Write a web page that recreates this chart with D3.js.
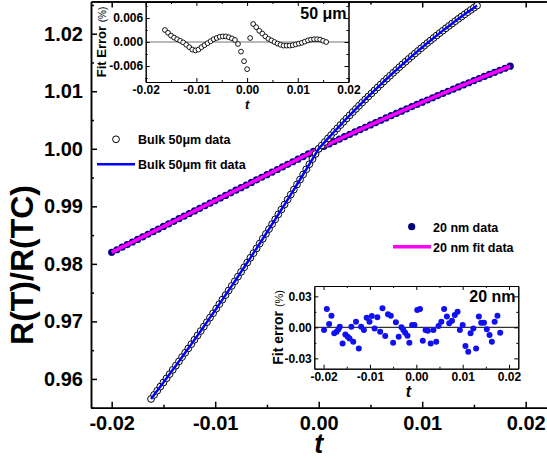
<!DOCTYPE html>
<html><head><meta charset="utf-8">
<script src="https://cdn.jsdelivr.net/npm/d3@7"></script>
<style>
body{margin:0;background:#fff;}
svg{display:block;}
</style></head><body>
<svg id="chart" width="547" height="459"></svg>
<script>
// ---------- data ----------
const bulkT = [-0.0162,-0.0159,-0.0156,-0.0153,-0.0150,-0.0147,-0.0144,-0.0141,-0.0138,-0.0135,-0.0132,-0.0129,-0.0126,-0.0123,-0.0120,-0.0117,-0.0114,-0.0111,-0.0108,-0.0105,-0.0102,-0.0099,-0.0096,-0.0093,-0.0090,-0.0087,-0.0084,-0.0081,-0.0078,-0.0075,-0.0072,-0.0069,-0.0066,-0.0063,-0.0060,-0.0057,-0.0054,-0.0051,-0.0048,-0.0045,-0.0042,-0.0039,-0.0036,-0.0033,-0.0030,-0.0027,-0.0024,-0.0021,-0.0018,-0.0015,-0.0012,-0.0009,-0.0006,-0.0003,0.0000,0.0003,0.0006,0.0009,0.0012,0.0015,0.0018,0.0021,0.0024,0.0027,0.0030,0.0033,0.0036,0.0039,0.0042,0.0045,0.0048,0.0051,0.0054,0.0057,0.0060,0.0063,0.0066,0.0069,0.0072,0.0075,0.0078,0.0081,0.0084,0.0087,0.0090,0.0093,0.0096,0.0099,0.0102,0.0105,0.0108,0.0111,0.0114,0.0117,0.0120,0.0123,0.0126,0.0129,0.0132,0.0135,0.0138,0.0141,0.0144,0.0147,0.0150,0.0153];
const bulkR = [0.95652,0.95723,0.95795,0.95867,0.95939,0.96011,0.96084,0.96158,0.96231,0.96305,0.96380,0.96455,0.96530,0.96605,0.96681,0.96757,0.96833,0.96910,0.96987,0.97065,0.97143,0.97221,0.97300,0.97379,0.97458,0.97538,0.97618,0.97698,0.97779,0.97860,0.97941,0.98023,0.98105,0.98187,0.98270,0.98353,0.98437,0.98521,0.98605,0.98690,0.98774,0.98860,0.98945,0.99031,0.99118,0.99204,0.99291,0.99379,0.99466,0.99554,0.99643,0.99732,0.99821,0.99910,1.00000,1.00060,1.00120,1.00180,1.00239,1.00297,1.00355,1.00413,1.00470,1.00527,1.00583,1.00639,1.00694,1.00749,1.00803,1.00857,1.00910,1.00963,1.01016,1.01068,1.01119,1.01171,1.01221,1.01271,1.01321,1.01370,1.01419,1.01468,1.01515,1.01563,1.01610,1.01656,1.01702,1.01748,1.01793,1.01838,1.01882,1.01926,1.01969,1.02012,1.02054,1.02096,1.02137,1.02178,1.02219,1.02259,1.02298,1.02337,1.02376,1.02414,1.02452,1.02489];

const nmT = [-0.0200,-0.0195,-0.0190,-0.0185,-0.0180,-0.0175,-0.0170,-0.0165,-0.0160,-0.0155,-0.0150,-0.0145,-0.0140,-0.0135,-0.0130,-0.0125,-0.0120,-0.0115,-0.0110,-0.0105,-0.0100,-0.0095,-0.0090,-0.0085,-0.0080,-0.0075,-0.0070,-0.0065,-0.0060,-0.0055,-0.0050,-0.0045,-0.0040,-0.0035,-0.0030,-0.0025,-0.0020,-0.0015,-0.0010,-0.0005,0.0000,0.0005,0.0010,0.0015,0.0020,0.0025,0.0030,0.0035,0.0040,0.0045,0.0050,0.0055,0.0060,0.0065,0.0070,0.0075,0.0080,0.0085,0.0090,0.0095,0.0100,0.0105,0.0110,0.0115,0.0120,0.0125,0.0130,0.0135,0.0140,0.0145,0.0150,0.0155,0.0160,0.0165,0.0170,0.0175,0.0180,0.0185];
const nmR = [0.98200,0.98245,0.98290,0.98335,0.98380,0.98425,0.98470,0.98515,0.98560,0.98605,0.98650,0.98695,0.98740,0.98785,0.98830,0.98875,0.98920,0.98965,0.99010,0.99055,0.99100,0.99145,0.99190,0.99235,0.99280,0.99325,0.99370,0.99415,0.99460,0.99505,0.99550,0.99595,0.99640,0.99685,0.99730,0.99775,0.99820,0.99865,0.99910,0.99955,1.00000,1.00042,1.00085,1.00127,1.00168,1.00210,1.00251,1.00293,1.00334,1.00374,1.00415,1.00455,1.00496,1.00536,1.00575,1.00615,1.00654,1.00694,1.00733,1.00771,1.00810,1.00848,1.00887,1.00925,1.00962,1.01000,1.01037,1.01075,1.01112,1.01148,1.01185,1.01221,1.01258,1.01294,1.01329,1.01365,1.01400,1.01436];

// inset: bulk fit error (%)
const errBulkT = [-0.0162,-0.0156,-0.0150,-0.0144,-0.0138,-0.0132,-0.0126,-0.0120,-0.0114,-0.0108,-0.0102,-0.0096,-0.0090,-0.0084,-0.0078,-0.0072,-0.0066,-0.0060,-0.0054,-0.0048,-0.0042,-0.0036,-0.0030,-0.0024,-0.0018,-0.0012,-0.0006,0.0000,0.0006,0.0012,0.0018,0.0024,0.0030,0.0036,0.0042,0.0048,0.0054,0.0060,0.0066,0.0072,0.0078,0.0084,0.0090,0.0096,0.0102,0.0108,0.0114,0.0120,0.0126,0.0132,0.0138,0.0144,0.0150,0.0156];
const errBulk = [0.0030,0.0023,0.0016,0.0011,0.0007,0.0003,-0.0001,-0.0007,-0.0013,-0.0019,-0.0021,-0.0019,-0.0013,-0.0008,-0.0003,0.0002,0.0007,0.0010,0.0013,0.0014,0.0014,0.0012,0.0009,0.0005,-0.0005,-0.0024,-0.0048,-0.0068,0.0010,0.0045,0.0037,0.0028,0.0021,0.0014,0.0008,0.0004,0.0000,-0.0004,-0.0007,-0.0009,-0.0009,-0.0009,-0.0008,-0.0006,-0.0004,-0.0002,0.0001,0.0004,0.0006,0.0007,0.0007,0.0006,0.0003,0.0000];

// inset: 20 nm fit error (%)
const errNmT = [-0.0199,-0.0193,-0.0188,-0.0183,-0.0177,-0.0172,-0.0168,-0.0165,-0.0159,-0.0153,-0.0148,-0.0144,-0.0140,-0.0136,-0.0130,-0.0124,-0.0119,-0.0113,-0.0107,-0.0101,-0.0096,-0.0090,-0.0084,-0.0078,-0.0073,-0.0067,-0.0061,-0.0055,-0.0050,-0.0044,-0.0038,-0.0032,-0.0028,-0.0024,-0.0019,-0.0015,-0.0009,-0.0004,0.0002,0.0008,0.0014,0.0020,0.0025,0.0031,0.0037,0.0043,0.0048,0.0054,0.0060,0.0066,0.0071,0.0077,0.0083,0.0089,0.0094,0.0100,0.0106,0.0112,0.0117,0.0123,0.0129,0.0135,0.0140,0.0146,0.0152,0.0158,0.0163,0.0169,0.0175,0.0181];
const errNm = [-0.0026,0.0178,0.0032,0.0113,-0.0058,-0.0042,-0.0019,0.0006,-0.0156,-0.0068,-0.0091,-0.0107,0.0006,-0.0139,0.0055,-0.0204,0.0006,-0.0026,0.0094,0.0055,0.0110,-0.0010,0.0097,-0.0042,0.0185,-0.0084,0.0126,0.0113,-0.0149,0.0049,-0.0091,0.0000,-0.0026,-0.0052,-0.0081,-0.0149,0.0023,0.0023,0.0168,0.0178,-0.0130,-0.0026,-0.0032,-0.0156,-0.0026,-0.0139,0.0013,0.0055,0.0178,0.0104,0.0039,0.0065,0.0120,0.0152,-0.0026,0.0023,-0.0181,-0.0237,-0.0058,-0.0010,-0.0204,0.0104,0.0045,0.0045,-0.0019,-0.0075,-0.0139,0.0055,0.0113,-0.0052];

// ticks
const xTicks = [-0.02,-0.01,0.00,0.01,0.02];
const xMinor = [-0.015,-0.005,0.005,0.015];
const yTicks = [0.96,0.97,0.98,0.99,1.00,1.01,1.02];
const yMinor = [0.955,0.965,0.975,0.985,0.995,1.005,1.015,1.025];
const in1YTicks = [-0.006,0.000,0.006];
const in1YMinor = [-0.009,-0.003,0.003,0.009];
const in2YTicks = [-0.03,0.00,0.03];
const in2YMinor = [-0.015,0.015];

// ---------- drawing ----------
const FONT = "'Liberation Sans', Arial, Helvetica, sans-serif";
const svg = d3.select("#chart").attr("font-family", FONT);

const x = d3.scaleLinear().domain([-0.022, 0.022]).range([91, 546.4]);
const y = d3.scaleLinear().domain([0.955, 1.0256]).range([407.7, 1.5]);

function style(g, fs, sw) {
  g.attr("font-family", FONT);
  g.select(".domain").attr("stroke", "#000").attr("stroke-width", sw);
  g.selectAll(".tick line").attr("stroke", "#000").attr("stroke-width", sw);
  g.selectAll(".tick text").attr("font-size", fs).attr("font-weight", "bold").attr("fill", "#000");
  return g;
}

// main axes
const fmt2 = d => d.toFixed(2);
svg.append("g").attr("transform", "translate(0,407.7)")
  .call(d3.axisBottom(x).tickValues(xTicks).tickFormat(fmt2).tickSize(-6).tickSizeOuter(0).tickPadding(8))
  .call(g => style(g, 20, 1.5));
svg.append("g").attr("transform", "translate(0,407.7)")
  .call(d3.axisBottom(x).tickValues(xMinor).tickFormat("").tickSize(-3).tickSizeOuter(0))
  .call(g => style(g, 20, 1.5));
svg.append("g").attr("transform", "translate(0,1.5)")
  .call(d3.axisTop(x).tickValues(xTicks).tickFormat("").tickSize(-6).tickSizeOuter(0))
  .call(g => style(g, 20, 1.5));
svg.append("g").attr("transform", "translate(0,1.5)")
  .call(d3.axisTop(x).tickValues(xMinor).tickFormat("").tickSize(-3).tickSizeOuter(0))
  .call(g => style(g, 20, 1.5));
svg.append("g").attr("transform", "translate(91,0)")
  .call(d3.axisLeft(y).tickValues(yTicks).tickFormat(fmt2).tickSize(-6).tickSizeOuter(0).tickPadding(8))
  .call(g => style(g, 20, 1.5));
svg.append("g").attr("transform", "translate(91,0)")
  .call(d3.axisLeft(y).tickValues(yMinor).tickFormat("").tickSize(-3).tickSizeOuter(0))
  .call(g => style(g, 20, 1.5));

// axis titles
svg.append("text").attr("x", x(0)).attr("y", 453).attr("text-anchor", "middle")
  .attr("font-size", 27).attr("font-weight", "bold").attr("font-style", "italic").text("t");
const yt = svg.append("text").attr("transform", "translate(33,265) rotate(-90)")
  .attr("text-anchor", "middle").attr("font-size", 32).attr("font-weight", "bold");
yt.append("tspan").text("R(T)/R(T");
yt.append("tspan").text("C");
yt.append("tspan").text(")");

// 20 nm data + fit
const nmPts = nmT.map((t, i) => [t, nmR[i]]);
svg.append("g").selectAll("circle").data(nmPts).join("circle")
  .attr("cx", d => x(d[0])).attr("cy", d => y(d[1])).attr("r", 3.6).attr("fill", "#000080");
svg.append("path").datum(nmPts)
  .attr("d", d3.line().x(d => x(d[0])).y(d => y(d[1])).curve(d3.curveMonotoneX))
  .attr("fill", "none").attr("stroke", "#ff00ff").attr("stroke-width", 3.5);

// bulk data + fit
const bulkPts = bulkT.map((t, i) => [t, bulkR[i]]);
svg.append("g").selectAll("circle").data(bulkPts).join("circle")
  .attr("cx", d => x(d[0])).attr("cy", d => y(d[1])).attr("r", 3.4)
  .attr("fill", "#fff").attr("stroke", "#000").attr("stroke-width", 1);
svg.append("path").datum(bulkPts)
  .attr("d", d3.line().x(d => x(d[0])).y(d => y(d[1])).curve(d3.curveMonotoneX))
  .attr("fill", "none").attr("stroke", "#0000ff").attr("stroke-width", 2.5);

// legends
const lg = svg.append("g").attr("font-size", 12.5).attr("font-weight", "bold");
lg.append("circle").attr("cx", 116).attr("cy", 139.3).attr("r", 3.4).attr("fill", "#fff").attr("stroke", "#000");
lg.append("text").attr("x", 138).attr("y", 144).text("Bulk 50\u03BCm data");
lg.append("line").attr("x1", 97).attr("x2", 135).attr("y1", 164.3).attr("y2", 164.3).attr("stroke", "#0000ff").attr("stroke-width", 2.5);
lg.append("text").attr("x", 138).attr("y", 169).text("Bulk 50\u03BCm fit data");
lg.append("circle").attr("cx", 411.7).attr("cy", 226.7).attr("r", 3.6).attr("fill", "#000080");
lg.append("text").attr("x", 433).attr("y", 231.5).text("20 nm data");
lg.append("line").attr("x1", 393).attr("x2", 431).attr("y1", 246.7).attr("y2", 246.7).attr("stroke", "#ff00ff").attr("stroke-width", 3.5);
lg.append("text").attr("x", 433).attr("y", 251.5).text("20 nm fit data");

// ---------- inset 1 (bulk fit error) ----------
const ix1 = d3.scaleLinear().domain([-0.02, 0.02]).range([145.7, 348.5]);
const iy1 = d3.scaleLinear().domain([-0.01, 0.01]).range([82, 2]);
const in1 = svg.append("g");
in1.append("rect").attr("x", ix1.range()[0]).attr("y", iy1.range()[1])
  .attr("width", ix1.range()[1] - ix1.range()[0]).attr("height", iy1.range()[0] - iy1.range()[1])
  .attr("fill", "#fff");
in1.append("line").attr("x1", ix1(-0.02)).attr("x2", ix1(0.02)).attr("y1", iy1(0)).attr("y2", iy1(0))
  .attr("stroke", "#777").attr("stroke-width", 1.2);
function insetAxes(g, sx, sy, xt, xm, yt, ym, yfmt, fs) {
  const [x0, x1] = sx.range(); const [y0, y1] = sy.range();
  g.append("g").attr("transform", `translate(0,${y0})`)
    .call(d3.axisBottom(sx).tickValues(xt).tickFormat(fmt2).tickSize(-4).tickSizeOuter(0).tickPadding(3.5)).call(s => style(s, fs, 1));
  g.append("g").attr("transform", `translate(0,${y0})`)
    .call(d3.axisBottom(sx).tickValues(xm).tickFormat("").tickSize(-2).tickSizeOuter(0)).call(s => style(s, fs, 1));
  g.append("g").attr("transform", `translate(0,${y1})`)
    .call(d3.axisTop(sx).tickValues(xt).tickFormat("").tickSize(-4).tickSizeOuter(0)).call(s => style(s, fs, 1));
  g.append("g").attr("transform", `translate(0,${y1})`)
    .call(d3.axisTop(sx).tickValues(xm).tickFormat("").tickSize(-2).tickSizeOuter(0)).call(s => style(s, fs, 1));
  g.append("g").attr("transform", `translate(${x0},0)`)
    .call(d3.axisLeft(sy).tickValues(yt).tickFormat(yfmt).tickSize(-4).tickSizeOuter(0).tickPadding(2.5)).call(s => style(s, fs, 1));
  g.append("g").attr("transform", `translate(${x0},0)`)
    .call(d3.axisLeft(sy).tickValues(ym).tickFormat("").tickSize(-2).tickSizeOuter(0)).call(s => style(s, fs, 1));
  g.append("g").attr("transform", `translate(${x1},0)`)
    .call(d3.axisRight(sy).tickValues(yt).tickFormat("").tickSize(-4).tickSizeOuter(0)).call(s => style(s, fs, 1));
  g.append("g").attr("transform", `translate(${x1},0)`)
    .call(d3.axisRight(sy).tickValues(ym).tickFormat("").tickSize(-2).tickSizeOuter(0)).call(s => style(s, fs, 1));
}
insetAxes(in1, ix1, iy1, xTicks, xMinor, in1YTicks, in1YMinor, d => d.toFixed(3), 12);
in1.append("g").selectAll("circle").data(errBulkT.map((t, i) => [t, errBulk[i]])).join("circle")
  .attr("cx", d => ix1(d[0])).attr("cy", d => iy1(d[1])).attr("r", 2.4)
  .attr("fill", "#fff").attr("stroke", "#000").attr("stroke-width", 0.9);
in1.append("text").attr("x", 346.5).attr("y", 18.5).attr("text-anchor", "end")
  .attr("font-size", 16).attr("font-weight", "bold").text("50 \u03BCm");
in1.append("text").attr("x", ix1(0)).attr("y", 109).attr("text-anchor", "middle")
  .attr("font-size", 13).attr("font-weight", "bold").attr("font-style", "italic").text("t");
const t1 = in1.append("text").attr("transform", `translate(106,${(iy1.range()[0] + iy1.range()[1]) / 2}) rotate(-90)`)
  .attr("text-anchor", "middle");
t1.append("tspan").attr("font-size", 13).attr("font-weight", "bold").text("Fit Error ");
t1.append("tspan").attr("font-size", 10).text("(%)");

// ---------- inset 2 (20 nm fit error) ----------
const ix2 = d3.scaleLinear().domain([-0.022, 0.022]).range([314.3, 518.3]);
const iy2 = d3.scaleLinear().domain([-0.04, 0.04]).range([368.7, 286]);
const in2 = svg.append("g");
in2.append("rect").attr("x", ix2.range()[0]).attr("y", iy2.range()[1])
  .attr("width", ix2.range()[1] - ix2.range()[0]).attr("height", iy2.range()[0] - iy2.range()[1])
  .attr("fill", "#fff");
in2.append("line").attr("x1", ix2.range()[0]).attr("x2", ix2.range()[1]).attr("y1", iy2(0)).attr("y2", iy2(0))
  .attr("stroke", "#333").attr("stroke-width", 1.2);
insetAxes(in2, ix2, iy2, xTicks, xMinor, in2YTicks, in2YMinor, fmt2, 12);
in2.append("g").selectAll("circle").data(errNmT.map((t, i) => [t, errNm[i]])).join("circle")
  .attr("cx", d => ix2(d[0])).attr("cy", d => iy2(d[1])).attr("r", 3)
  .attr("fill", "#1010f0");
in2.append("text").attr("x", 515.5).attr("y", 301.5).attr("text-anchor", "end")
  .attr("font-size", 16).attr("font-weight", "bold").text("20 nm");
in2.append("text").attr("x", ix2(0) - 8).attr("y", 397).attr("text-anchor", "middle")
  .attr("font-size", 16).attr("font-weight", "bold").attr("font-style", "italic").text("t");
const t2 = in2.append("text").attr("transform", `translate(283,${(iy2.range()[0] + iy2.range()[1]) / 2}) rotate(-90)`)
  .attr("text-anchor", "middle");
t2.append("tspan").attr("font-size", 14).attr("font-weight", "bold").text("Fit error ");
t2.append("tspan").attr("font-size", 11).text("(%)");
</script>
</body></html>
